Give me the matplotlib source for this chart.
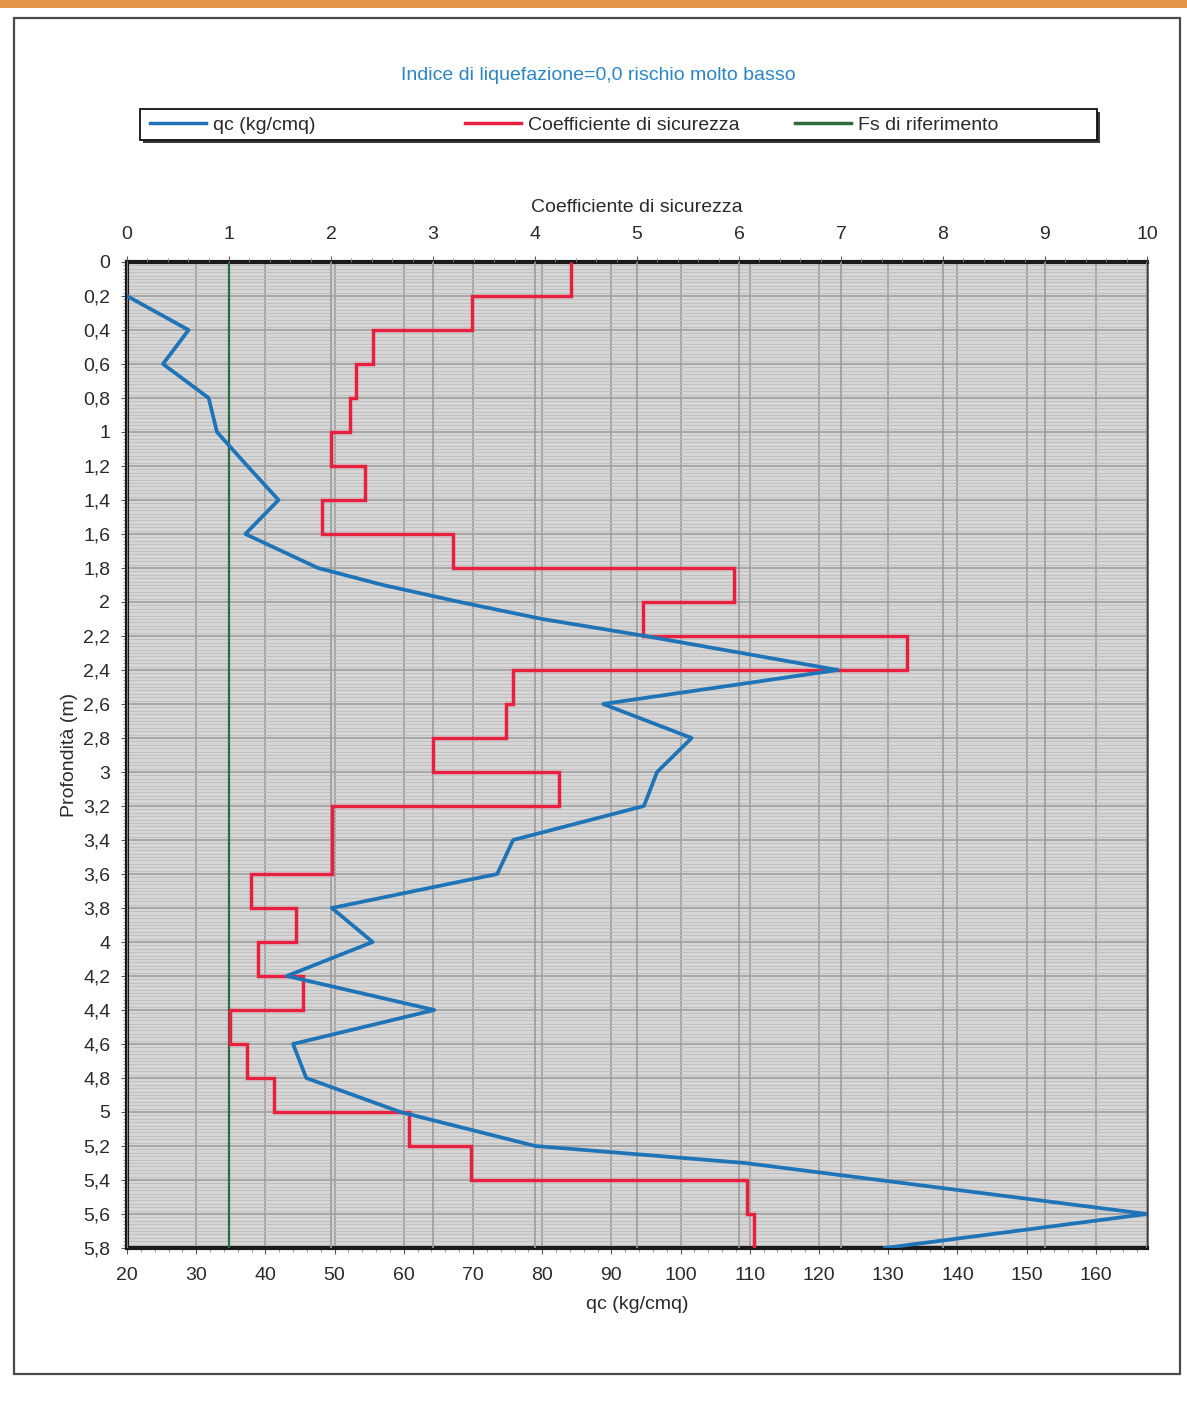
import matplotlib.pyplot as plt
from matplotlib.patches import Rectangle
from matplotlib.lines import Line2D
from matplotlib.ticker import MultipleLocator, FuncFormatter

plt.rcParams['font.family'] = ['Liberation Sans', 'DejaVu Sans']

# qc (kg/cmq) profile
qc_depth = [0.2, 0.4, 0.6, 0.8, 1.0, 1.2, 1.4, 1.6, 1.8, 1.9, 2.0, 2.1, 2.2, 2.4, 2.6, 2.8, 3.0,
            3.2, 3.4, 3.6, 3.8, 4.0, 4.2, 4.4, 4.6, 4.8, 5.0, 5.2, 5.3, 5.6, 5.8]
qc = [20.0, 28.9, 25.2, 31.8, 33.0, 37.4, 41.9, 37.1, 47.6, 57.0, 68.1, 80.0, 94.9, 122.7, 88.8, 101.6, 96.6,
      94.7, 75.8, 73.5, 49.6, 55.5, 43.1, 64.4, 44.0, 45.9, 59.5, 79.0, 109.3, 167.4, 129.5]

# coefficiente di sicurezza per strato
layer_edges = [0.0, 0.2, 0.4, 0.6, 0.8, 1.0, 1.2, 1.4, 1.6, 1.8, 2.0, 2.2, 2.4, 2.6, 2.8,
               3.0, 3.2, 3.4, 3.6, 3.8, 4.0, 4.2, 4.4, 4.6, 4.8, 5.0, 5.2, 5.4, 5.6, 5.8]
fs = [4.35, 3.38, 2.41, 2.25, 2.19, 2.0, 2.33, 1.91, 3.2, 5.95, 5.06, 7.65, 3.78, 3.72, 3.0,
      4.24, 2.01, 2.01, 1.22, 1.66, 1.28, 1.73, 1.01, 1.18, 1.44, 2.76, 3.37, 6.08, 6.15]
fs_ref = 1.0

title = "Indice di liquefazione=0,0 rischio molto basso"
labels = ["qc (kg/cmq)", "Coefficiente di sicurezza", "Fs di riferimento"]
colors = ['#1f74b8', '#e8203f', '#2f6b3e']

W, H = 1187, 1414
fig = plt.figure(figsize=(W / 100, H / 100), dpi=100)

# page frame
fig.patches.append(Rectangle((0, 1 - 8 / H), 1, 8 / H, transform=fig.transFigure,
                             facecolor='#e39448', edgecolor='none'))
fig.patches.append(Rectangle((14 / W, 1 - 1374 / H), 1166 / W, 1356 / H, transform=fig.transFigure,
                             facecolor='none', edgecolor='#4a4a4a', lw=1.6))

ax = fig.add_axes([127 / W, 1 - 1248 / H, 1020 / W, 986 / H])
ax.set_facecolor('#d6d6d6')
ax.set_xlim(20, max(qc))
ax.set_ylim(5.8, 0)

ax.xaxis.set_major_locator(MultipleLocator(10))
ax.xaxis.set_minor_locator(MultipleLocator(2))
ax.yaxis.set_major_locator(MultipleLocator(0.2))
ax.yaxis.set_minor_locator(MultipleLocator(0.02))
ax.yaxis.set_major_formatter(FuncFormatter(lambda v, p: f"{round(v, 1):g}".replace('.', ',')))

ax.grid(axis='y', which='minor', color='#bcbcbc', lw=0.6)
ax.grid(axis='y', which='major', color='#a3a3a3', lw=1.3)
ax.grid(axis='x', which='major', color='#9c9c9c', lw=1.2)
ax.set_axisbelow(True)

ax.tick_params(axis='both', which='major', labelsize=14, length=4, color='#555555', labelcolor='#2a2a2a')
ax.tick_params(axis='x', which='major', pad=10)
ax.tick_params(axis='y', which='major', pad=8)
ax.tick_params(axis='both', which='minor', length=3, color='#888888')
ax.set_xlabel("qc (kg/cmq)", fontsize=14, color='#2a2a2a', labelpad=8)
ax.set_ylabel("Profondità (m)", fontsize=14, color='#2a2a2a', labelpad=4)

for side in ['left', 'top', 'bottom']:
    ax.spines[side].set_linewidth(3)
    ax.spines[side].set_color('#1a1a1a')
ax.spines['right'].set_linewidth(1.8)
ax.spines['right'].set_color('#444444')

ax2 = ax.twiny()
ax2.set_xlim(0, 10)
ax2.set_ylim(5.8, 0)
ax2.xaxis.set_major_locator(MultipleLocator(1))
ax2.xaxis.set_minor_locator(MultipleLocator(0.2))
ax2.grid(axis='x', which='major', color='#9c9c9c', lw=1.2)
ax2.set_axisbelow(True)
ax2.tick_params(axis='x', which='major', labelsize=14, length=4, pad=10,
                color='#555555', labelcolor='#2a2a2a')
ax2.tick_params(axis='x', which='minor', length=3, color='#888888')
ax2.set_xlabel("Coefficiente di sicurezza", fontsize=14, color='#2a2a2a', labelpad=10)
for s in ax2.spines.values():
    s.set_visible(False)

ax2.axvline(fs_ref, color=colors[2], lw=1.6, zorder=3)
ax2.stairs(fs, layer_edges, orientation='horizontal', baseline=None,
           color=colors[1], lw=2.5, zorder=4)
ax2.plot(qc, qc_depth, color=colors[0], lw=2.7, transform=ax.transData, zorder=5)
ax2.set_xlim(0, 10)
ax2.set_ylim(5.8, 0)

fig.text(598 / W, 1 - 75 / H, title, color='#2a86c8', fontsize=14, ha='center', va='center')

# legend box with shadow
fig.patches.append(Rectangle((143 / W, 1 - 143 / H), 957 / W, 31 / H, transform=fig.transFigure,
                             facecolor='#3a3a3a', edgecolor='none'))
fig.patches.append(Rectangle((140 / W, 1 - 140 / H), 957 / W, 31 / H, transform=fig.transFigure,
                             facecolor='white', edgecolor='#111111', lw=1.3))
for x0, lab, col in zip([150, 465, 795], labels, colors):
    fig.legend([Line2D([], [], color=col, lw=2.5)], [lab], loc='center left',
               bbox_to_anchor=(x0 / W, 1 - 125 / H), frameon=False, borderpad=0,
               borderaxespad=0, fontsize=14, handlelength=2.9, handletextpad=0.35,
               labelcolor='#2a2a2a')

fig.savefig("out.png", dpi=100)
